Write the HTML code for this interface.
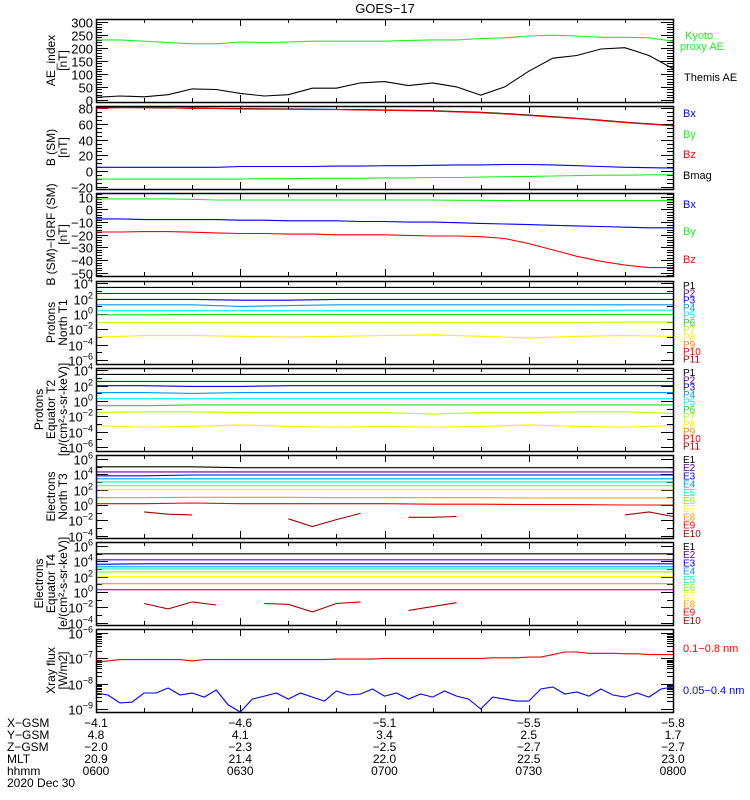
<!DOCTYPE html>
<html><head><meta charset="utf-8"><style>
html,body{margin:0;padding:0;background:#fff;}
svg{display:block;font-family:"Liberation Sans","DejaVu Sans",sans-serif;}
</style></head><body>
<svg id="chart" width="750" height="800" viewBox="0 0 750 800" xmlns="http://www.w3.org/2000/svg">
<text x="385" y="13" font-size="13" text-anchor="middle">GOES−17</text>
<g id="panels"></g>
<g id="bottom" font-size="12"></g>
</svg>
<script>
// ---- data (time samples in minutes after 06:00) ----
const t5 = [0,5,10,15,20,25,30,35,40,45,50,55,60,65,70,75,80,85,90,95,100,105,110,115,120];
const t10 = [0,10,20,30,40,50,60,70,80,90,100,110,120];
const kyotoAE = [230,230,225,220,215,215,222,220,222,225,225,225,225,228,230,230,235,238,245,248,245,240,240,238,225];
const themisAE = [10,15,12,20,42,40,25,15,20,45,45,65,70,55,65,50,18,50,110,160,170,195,200,170,120];
const bsmBmag = [80.5,80.5,80.3,80,79.8,79.5,79.2,79,78.8,78.5,78.2,78,77.5,77,76.5,75.5,74.5,73,71,69,67,64.5,62,60,58];
const bsmBz = [79.5,80.5,80.5,80.3,79.5,79.5,78.8,78.5,78.5,78,78,77.5,77,76.5,76,75,74,72.5,70.5,68.5,66.5,64,61.5,59.5,57.5];
const bsmBx = [5,5,5,5,5,5,6,6,6,6,6.5,6.5,7,7,7.5,8,8,8.5,8.5,8,7,6,5,4.5,4];
const bsmBy = [-10,-10,-10,-10,-10,-10,-10,-9.5,-9.5,-9,-9,-9,-8.5,-8.5,-8,-8,-7.5,-7,-6.5,-6,-5.5,-5,-5,-4.5,-4.5];
const dbBx = [-7.5,-7.5,-8,-8,-8,-8,-8.5,-8.5,-9,-9,-9,-9.5,-9.5,-10,-10,-10.5,-11,-11.5,-12,-12.5,-13,-13.5,-14,-14.5,-14.5];
const dbBy = [8.3,8.3,8.3,8.3,8,7.5,7.5,7.5,7.5,7.5,7.5,7.5,7.5,7.5,7.5,7.2,7.2,7,7,7,7,7,7,7,7];
const dbBz = [-17.8,-17.8,-17.5,-17.5,-18,-18.5,-19,-19,-19.5,-19.5,-20,-20,-20,-20.5,-21,-21,-21.5,-23,-27,-32,-37,-41,-44,-46,-46];
// log10 fluxes, 10-min samples
const t1P1 = [3.47,3.47,3.47,3.47,3.47,3.47,3.47,3.47,3.47,3.47,3.47,3.47,3.47];
const t1P2 = [2.68,2.68,2.68,2.68,2.68,2.68,2.68,2.68,2.68,2.68,2.68,2.68,2.68];
const t1P3 = [1.9,1.9,1.9,1.8,1.8,1.9,1.9,1.9,1.9,1.9,1.9,1.9,1.9];
const t1P4 = [1.2,1.2,1.2,1.0,1.1,1.2,1.2,1.2,1.2,1.2,1.2,1.2,1.2];
const t1P5 = [0.44,0.44,0.44,0.44,0.44,0.44,0.44,0.44,0.44,0.44,0.44,0.5,0.5];
const t1P6 = [-0.1,-0.1,-0.05,-0.05,-0.05,-0.05,-0.05,-0.05,-0.05,-0.05,-0.05,-0.05,-0.05];
const t1P7 = [-1.1,-1.1,-1.1,-1.1,-1.1,-1.1,-1.1,-1.1,-1.1,-1.1,-1.1,-1.05,-1.05];
const t1P8 = [-3.0,-2.8,-2.8,-2.9,-3.0,-2.9,-2.8,-2.7,-2.9,-3.1,-2.9,-2.8,-2.9];
const t2P1 = [3.47,3.47,3.47,3.47,3.47,3.47,3.47,3.47,3.47,3.47,3.47,3.47,3.47];
const t2P2 = [2.55,2.55,2.55,2.55,2.55,2.55,2.55,2.55,2.55,2.55,2.55,2.55,2.55];
const t2P3 = [2.0,2.0,1.9,1.9,2.0,2.0,2.0,2.0,2.0,2.0,2.0,2.0,2.0];
const t2P4 = [1.1,1.1,1.0,1.1,1.1,1.1,1.1,1.1,1.1,1.1,1.1,1.1,1.1];
const t2P5 = [0.3,0.3,0.3,0.3,0.3,0.3,0.3,0.3,0.3,0.3,0.3,0.3,0.3];
const t2P6 = [-0.6,-0.6,-0.5,-0.5,-0.5,-0.5,-0.5,-0.5,-0.5,-0.5,-0.5,-0.5,-0.5];
const t2P7 = [-1.5,-1.4,-1.4,-1.5,-1.5,-1.5,-1.5,-1.7,-1.5,-1.5,-1.4,-1.4,-1.6];
const t2P8 = [-3.2,-3.4,-3.3,-3.1,-3.3,-3.4,-3.3,-3.4,-3.3,-3.1,-3.3,-3.4,-3.2];
const t3E1 = [4.96,4.96,4.96,4.85,4.85,4.85,4.85,4.85,4.85,4.85,4.85,4.85,4.85];
const t3E2 = [4.3,4.3,4.3,4.3,4.3,4.3,4.3,4.3,4.3,4.3,4.3,4.3,4.3];
const t3E3 = [3.8,3.8,3.9,3.9,3.9,3.9,3.9,3.9,3.9,3.9,3.9,3.9,3.9];
const t3E4 = [3.4,3.4,3.4,3.4,3.4,3.4,3.4,3.4,3.4,3.4,3.4,3.4,3.4];
const t3E5 = [3.0,3.0,3.0,3.0,3.0,3.0,3.0,3.0,3.0,3.0,3.0,3.0,3.0];
const t3E6 = [2.5,2.5,2.5,2.5,2.5,2.5,2.5,2.5,2.5,2.5,2.5,2.5,2.5];
const t3E7 = [1.98,1.98,1.98,1.98,1.98,1.98,1.98,1.98,1.98,1.98,1.98,1.98,1.98];
const t3E8 = [0.94,0.94,1.0,1.0,1.0,0.94,0.94,0.94,0.94,0.9,0.9,0.9,0.9];
const t3E9 = [0.16,0.16,0.25,0.16,0.16,0.16,0.16,0.1,0.1,0.05,0.05,0.0,0.0];
const t3E10 = [null,null,-0.9,-1.2,-1.3,null,null,null,-1.8,-2.8,-1.9,-1.1,null,-1.6,-1.6,-1.5,null,null,null,null,null,null,-1.3,-0.9,-1.5];
const t4E1 = [4.96,4.96,4.96,4.96,4.96,4.96,4.96,4.96,4.96,4.96,4.96,4.96,4.96];
const t4E2 = [4.18,4.18,4.18,4.18,4.18,4.18,4.18,4.18,4.18,4.18,4.18,4.18,4.18];
const t4E3 = [3.6,3.66,3.66,3.66,3.66,3.66,3.66,3.66,3.66,3.66,3.66,3.66,3.66];
const t4E4 = [3.27,3.27,3.27,3.27,3.27,3.27,3.27,3.27,3.27,3.27,3.27,3.27,3.27];
const t4E5 = [3.0,3.0,3.0,3.0,3.0,3.0,3.0,3.0,3.0,3.0,3.0,3.0,3.0];
const t4E6 = [2.6,2.6,2.6,2.6,2.6,2.6,2.6,2.6,2.6,2.6,2.6,2.6,2.6];
const t4E7 = [1.98,1.98,1.98,1.98,1.98,1.98,1.98,1.98,1.98,1.98,1.98,1.98,1.98];
const t4E8 = [1.07,1.07,1.07,1.07,1.07,1.07,1.07,1.07,1.07,1.07,1.07,1.07,1.07];
const t4E9 = [0.29,0.29,0.29,0.29,0.29,0.29,0.29,0.29,0.29,0.29,0.29,0.29,0.29];
const t4E10 = [null,null,-1.5,-2.2,-1.3,-1.7,null,-1.5,-1.6,-2.6,-1.5,-1.3,null,-2.4,-1.9,-1.4,null,null,null,null,null,null,null,null,null];
const t25 = [0,2.5,5,7.5,10,12.5,15,17.5,20,22.5,25,27.5,30,32.5,35,37.5,40,42.5,45,47.5,50,52.5,55,57.5,60,62.5,65,67.5,70,72.5,75,77.5,80,82.5,85,87.5,90,92.5,95,97.5,100,102.5,105,107.5,110,112.5,115,117.5,120];
const xrayLong = [-7.15,-7.1,-7.05,-7.05,-7.05,-7.05,-7.05,-7.05,-7.1,-7.05,-7.05,-7.05,-7.05,-7.05,-7.05,-7.05,-7.05,-7.05,-7.05,-7.05,-7.03,-7.03,-7.03,-7.03,-7.0,-7.0,-7.0,-7.0,-7.0,-7.0,-7.0,-7.0,-7.0,-6.98,-6.98,-6.98,-6.95,-6.95,-6.85,-6.75,-6.75,-6.8,-6.8,-6.8,-6.82,-6.82,-6.85,-6.85,-6.85];
const xrayShort = [-8.37,-8.45,-8.76,-8.73,-8.37,-8.37,-8.17,-8.45,-8.37,-8.53,-8.25,-8.84,-9.12,-8.61,-8.49,-8.37,-8.61,-8.37,-8.53,-8.69,-8.29,-8.45,-8.41,-8.21,-8.49,-8.37,-8.61,-8.41,-8.53,-8.29,-8.49,-8.61,-9.0,-8.53,-8.61,-8.69,-8.69,-8.21,-8.13,-8.41,-8.33,-8.49,-8.21,-8.45,-8.53,-8.37,-8.53,-8.21,-8.13];
const xLabels = ['-4.1','-4.6','-5.1','-5.5','-5.8'];
const yGsm = ['4.8','4.1','3.4','2.5','1.7'];
const zGsm = ['-2.0','-2.3','-2.5','-2.7','-2.7'];
const mlt = ['20.9','21.4','22.0','22.5','23.0'];
const hhmm = ['0600','0630','0700','0730','0800'];

const NS='http://www.w3.org/2000/svg';
const X0=96, X1=673, TMAX=120;
function xs(t){return X0+(X1-X0)*t/TMAX;}
function mk(tag,attrs,parent){const e=document.createElementNS(NS,tag);for(const k in attrs)e.setAttribute(k,attrs[k]);parent.appendChild(e);return e;}
const root=document.getElementById('panels');

const C={P1:'#000000',P2:'#660099',P3:'#0000ff',P4:'#0099ff',P5:'#00eeff',P6:'#22dd22',P7:'#bbff00',P8:'#ffee00',P9:'#ff8800',P10:'#ff0000',P11:'#aa0000',
E1:'#000000',E2:'#660099',E3:'#0000ff',E4:'#0099ff',E5:'#00ffaa',E6:'#77ff00',E7:'#ffff00',E8:'#ff9900',E9:'#ff0000',E10:'#aa0000'};

function panel(cfg){
  const g=mk('g',{},root);
  
  
  const top=cfg.top,h=83,bot=top+h;
  const ys=v=>bot-(v-cfg.min)/(cfg.max-cfg.min)*h;
  const tk=mk('g',{stroke:'#000','stroke-width':1},g);
  
  
  cfg.minor.forEach(v=>{const y=Math.round(ys(v))+0.5;if(y<top||y>bot)return;
    mk('line',{x1:X0,x2:X0+6,y1:y,y2:y},tk);mk('line',{x1:X1-6,x2:X1,y1:y,y2:y},tk);});
  cfg.major.forEach(v=>{const y=Math.round(ys(v))+0.5;
    mk('line',{x1:X0,x2:X0+12,y1:y,y2:y},tk);mk('line',{x1:X1-12,x2:X1,y1:y,y2:y},tk);
    const tx=mk('text',{x:93,y:y+5,'font-size':13,'text-anchor':'end',stroke:'none'},g);
    
    
    if(cfg.log){tx.textContent='10';const s=mk('tspan',{dy:-6,'font-size':9},tx);s.textContent=String(v).replace('-','−');}
    else tx.textContent=String(v).replace('-','−');
  });
  for(let t=0;t<=120;t+=10){const x=Math.round(xs(t))+0.5;const L=(t%30===0)?7:4;
    mk('line',{x1:x,x2:x,y1:bot,y2:bot-L},tk);mk('line',{x1:x,x2:x,y1:top,y2:top+L},tk);}
  cfg.series.forEach(s=>{
    let d='',pen=false;
    s.v.forEach((v,i)=>{if(v===null||v===undefined){pen=false;return;}
      d+=(pen?'L':'M')+xs(s.t[i]).toFixed(1)+' '+ys(v).toFixed(1);pen=true;});
    const p=mk('path',{d:d,fill:'none',stroke:s.c,'stroke-width':1.1},g);
    
    
  });
  const fr=mk('rect',{x:X0+0.5,y:top+0.5,width:X1-X0,height:h,fill:'none',stroke:'#000','stroke-width':1.5},g);
  
  
  const cy=top+h/2;
  const n=cfg.title.length;
  cfg.title.forEach((line,i)=>{
    const x=67-(n-1-i)*12;
    const tx=mk('text',{x:0,y:0,'font-size':12,'text-anchor':'middle',transform:`translate(${x},${cy}) rotate(-90)`},g);
    
    
    tx.textContent=line;
  });
  cfg.legend.forEach(l=>{
    const tx=mk('text',{x:l.x||683,y:l.y,'font-size':l.fs||11,fill:l.c},g);
    
    
    tx.textContent=l.s;
  });
}
function range(a,b,s){const r=[];for(let v=a;v<=b+1e-9;v+=s)r.push(Math.round(v*100)/100);return r;}
function logMinor(a,b){const r=[];for(let e=a;e<b;e++)for(let k=1;k<10;k++)r.push(e+Math.log10(k));return r;}
function pLegend(top,n,pre){const r=[];const step=n===11?7.35:8.2;for(let i=1;i<=n;i++)r.push({s:pre+i,y:top+8+(i-1)*step,c:C[pre+i],fs:10});return r;}

panel({name:'ae-index-panel',top:19,min:-8,max:310,major:range(0,300,50),minor:range(0,300,10),title:['AE_index','[nT]'],
  series:[{n:'kyoto-ae-line',t:t5,v:kyotoAE,c:'#22ee22'},{n:'themis-ae-line',t:t5,v:themisAE,c:'#000'}],
  legend:[{s:'Kyoto',x:685,y:39,c:'#22ee22'},{s:'proxy AE',x:680,y:50,c:'#22ee22'},{s:'Themis AE',x:684,y:81,c:'#000'}]});
panel({name:'b-sm-panel',top:106,min:-22.5,max:82.5,major:range(-20,80,20),minor:range(-20,80,5),title:['B (SM)','[nT]'],
  series:[{n:'by-line',t:t5,v:bsmBy,c:'#22ee22'},{n:'bx-line',t:t5,v:bsmBx,c:'#0000ff'},{n:'bmag-line',t:t5,v:bsmBmag,c:'#000'},{n:'bz-line',t:t5,v:bsmBz,c:'#ff0000'}],
  legend:[{s:'Bx',y:117,c:'#0000ff'},{s:'By',y:138,c:'#22ee22'},{s:'Bz',y:158,c:'#ff0000'},{s:'Bmag',y:179,c:'#000'}]});
panel({name:'b-igrf-panel',top:193,min:-52.6,max:13,major:range(-50,10,10),minor:range(-52,12,2),title:['B (SM)−IGRF (SM)','[nT]'],
  series:[{n:'dbx-line',t:t5,v:dbBx,c:'#0000ff'},{n:'dby-line',t:t5,v:dbBy,c:'#22ee22'},{n:'dbz-line',t:t5,v:dbBz,c:'#ff0000'}],
  legend:[{s:'Bx',y:208,c:'#0000ff'},{s:'By',y:235,c:'#22ee22'},{s:'Bz',y:263,c:'#ff0000'}]});
const pm=[t1P1,t1P2,t1P3,t1P4,t1P5,t1P6,t1P7,t1P8];
panel({name:'protons-north-t1-panel',top:281,min:-6.5,max:4.3,log:true,major:[4,2,0,-2,-4,-6],minor:range(-6,4,1),title:['Protons','North T1'],
  series:pm.map((v,i)=>({n:'p'+(i+1)+'-t1-line',t:t10,v:v,c:C['P'+(i+1)]})),legend:pLegend(281,11,'P')});
const pe=[t2P1,t2P2,t2P3,t2P4,t2P5,t2P6,t2P7,t2P8];
panel({name:'protons-equator-t2-panel',top:368,min:-6.5,max:4.3,log:true,major:[4,2,0,-2,-4,-6],minor:range(-6,4,1),title:['Protons','Equator T2','[p/(cm²-s-sr-keV)]'],
  series:pe.map((v,i)=>({n:'p'+(i+1)+'-t2-line',t:t10,v:v,c:C['P'+(i+1)]})),legend:pLegend(368,11,'P')});
const en=[t3E1,t3E2,t3E3,t3E4,t3E5,t3E6,t3E7,t3E8,t3E9];
panel({name:'electrons-north-t3-panel',top:455,min:-4.3,max:6.5,log:true,major:[6,4,2,0,-2,-4],minor:range(-4,6,1),title:['Electrons','North T3'],
  series:en.map((v,i)=>({n:'e'+(i+1)+'-t3-line',t:t10,v:v,c:C['E'+(i+1)]})).concat([{n:'e10-t3-line',t:t5,v:t3E10,c:C.E10}]),legend:pLegend(455,10,'E')});
const ee=[t4E1,t4E2,t4E3,t4E4,t4E5,t4E6,t4E7,t4E8,t4E9];
panel({name:'electrons-equator-t4-panel',top:542,min:-4.3,max:6.5,log:true,major:[6,4,2,0,-2,-4],minor:range(-4,6,1),title:['Electrons','Equator T4','[e/(cm²-s-sr-keV)]'],
  series:ee.map((v,i)=>({n:'e'+(i+1)+'-t4-line',t:t10,v:v,c:C['E'+(i+1)]})).concat([{n:'e10-t4-line',t:t5,v:t4E10,c:C.E10}]),legend:pLegend(542,10,'E')});
panel({name:'xray-flux-panel',top:629,min:-9.12,max:-5.84,log:true,major:[-6,-7,-8,-9],minor:logMinor(-9,-6),title:['Xray flux','[W/m2]'],
  series:[{n:'xray-long-line',t:t25,v:xrayLong,c:'#ff0000'},{n:'xray-short-line',t:t25,v:xrayShort,c:'#0000ff'}],
  legend:[{s:'0.1−0.8 nm',y:652,c:'#ff0000'},{s:'0.05−0.4 nm',y:694,c:'#0000ff'}]});

const b=document.getElementById('bottom');
const rowNames=['X-GSM','Y-GSM','Z-GSM','MLT','hhmm'];
const rows=[xLabels,yGsm,zGsm,mlt,hhmm];
rows.forEach((arr,r)=>{
  const y=727+r*12;
  const lt=mk('text',{x:7,y:y},b);
  
  
  lt.textContent=rowNames[r].replace(/-/g,'−');
  arr.forEach((s,i)=>{
    const tx=mk('text',{x:xs(i*30),y:y,'text-anchor':'middle'},b);
    
    
    tx.textContent=s.replace('-','−');
  });
});
const dt=mk('text',{x:7,y:787},b);


dt.textContent='2020 Dec 30';
</script>
</body></html>
